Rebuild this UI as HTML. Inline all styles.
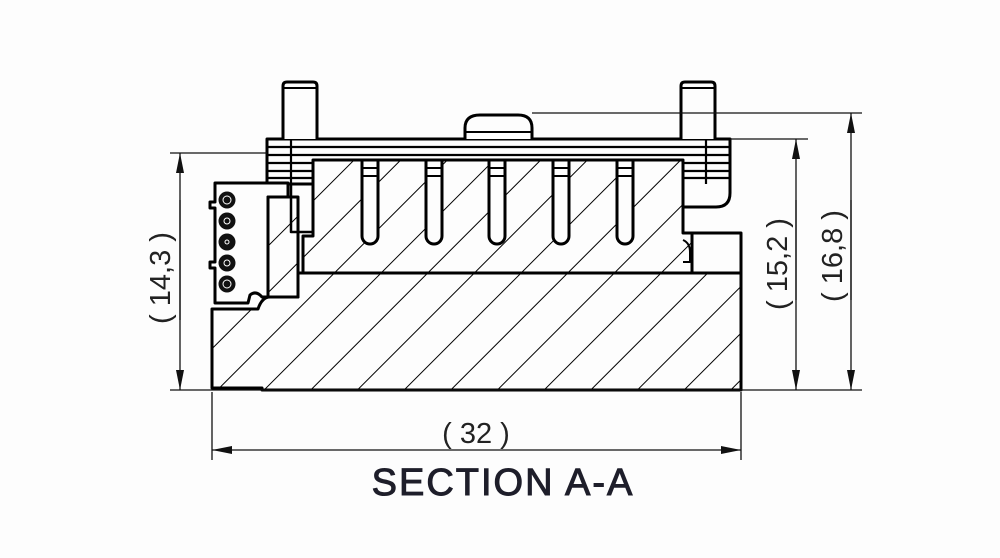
<!DOCTYPE html>
<html><head><meta charset="utf-8"><style>
html,body{margin:0;padding:0;background:#fdfdfd;}
svg{display:block;}
text{font-family:"Liberation Sans",sans-serif;}
</style></head><body>
<svg width="1000" height="558" viewBox="0 0 1000 558" xmlns="http://www.w3.org/2000/svg">
<defs>
<pattern id="h" patternUnits="userSpaceOnUse" width="33" height="33" patternTransform="rotate(45)">
<line x1="0" y1="0" x2="0" y2="33" stroke="#000" stroke-width="2"/>
</pattern>
<marker id="ar" viewBox="0 0 20 8" refX="20" refY="4" markerWidth="20" markerHeight="8" orient="auto" markerUnits="userSpaceOnUse"><path d="M0,0 L20,4 L0,8 Z" fill="#111"/></marker>
</defs>
<rect width="1000" height="558" fill="#fdfdfd"/>
<g stroke="#000" stroke-width="3" fill="none" stroke-linejoin="round">
<path d="M212,309 H258 Q262,297 270,297 H298 V273 H741 V390 H262 V388 H212 Z" fill="url(#h)"/>
<path d="M313,160 H683 V233 H692 V273 H303 V236 H313 Z" fill="url(#h)"/>
<rect x="692" y="233" width="49" height="40" fill="#fdfdfd"/>
<path d="M683,240 Q690,243 690,252 V262 H683" stroke-width="2"/>
<g fill="#fdfdfd">
<path d="M362,160 V236 A8,8 0 0 0 378,236 V160"/>
<path d="M426,160 V236 A8,8 0 0 0 442,236 V160"/>
<path d="M489,160 V236 A8,8 0 0 0 505,236 V160"/>
<path d="M553,160 V236 A8,8 0 0 0 569,236 V160"/>
<path d="M617,160 V236 A8,8 0 0 0 633,236 V160"/>
</g>
<g stroke-width="2">
<path d="M362,168 H378 M362,176 H378 M426,168 H442 M426,176 H442 M489,168 H505 M489,176 H505 M553,168 H569 M553,176 H569 M617,168 H633 M617,176 H633"/>
</g>
<g fill="#fdfdfd" stroke-width="2.5">
<path d="M338,160 V153 H346 V160"/><path d="M401,160 V153 H409 V160"/><path d="M464,160 V153 H472 V160"/>
<path d="M528,160 V153 H536 V160"/><path d="M591,160 V153 H599 V160"/><path d="M655,160 V153 H663 V160"/>
</g>
<path d="M267,139 H730 V193 Q730,207 716,207 H683 V160 H313 V184 H267 Z" fill="#fdfdfd"/>
<path d="M313,155 H683" stroke-width="2.2"/>
<path d="M313,160 H683" />
<g stroke-width="2.2">
<path d="M267,147 H730 M267,155 H313 M683,155 H730 M267,163 H313 M683,163 H730 M267,171 H313 M683,171 H730 M267,178 H313 M683,178 H730"/>
<path d="M291,139 V184 M706,139 V184"/>
</g>
<path d="M291,184 V232 H313 M303,236 V273" stroke-width="2.5"/>
<path d="M283,139 V86 Q283,82 287,82 H313 Q317,82 317,86 V139" fill="#fdfdfd"/>
<path d="M681,139 V86 Q681,82 685,82 H711 Q715,82 715,86 V139" fill="#fdfdfd"/>
<path d="M284,88 H316 M682,88 H714" stroke-width="2"/>
<path d="M465,139 V128 Q465,115 480,115 H518 Q532,115 532,128 V139" fill="#fdfdfd"/>
<path d="M466,132 H531" stroke-width="2"/>
<path d="M215,183 H288 V197 H268 V297 H262 Q256,290 250,295 L248,303 H215 V268 H210 V262 H215 V208 H210 V202 H215 Z" fill="#fdfdfd"/>
<rect x="268" y="197" width="30" height="100" fill="url(#h)"/>
</g>
<g fill="#111">
<circle cx="227" cy="200" r="8.5"/><circle cx="227" cy="221" r="8.5"/><circle cx="227" cy="242" r="8.5"/><circle cx="227" cy="263" r="8.5"/><circle cx="227" cy="284" r="8.5"/>
</g>
<g fill="none" stroke="#fff" stroke-width="1">
<circle cx="227" cy="200" r="4"/><circle cx="227" cy="221" r="3"/><circle cx="227" cy="242" r="2"/><circle cx="227" cy="263" r="3"/><circle cx="227" cy="284" r="4"/>
</g>
<g stroke="#111" stroke-width="1.3" fill="none">
<path d="M170,153 H267 M170,390 H862 M532,113 H862 M730,139 H808"/>
<path d="M212,392 V460 M741,392 V460"/>
<line x1="180" y1="320" x2="180" y2="153" marker-end="url(#ar)"/>
<line x1="180" y1="200" x2="180" y2="390" marker-end="url(#ar)"/>
<line x1="796" y1="300" x2="796" y2="139" marker-end="url(#ar)"/>
<line x1="796" y1="200" x2="796" y2="390" marker-end="url(#ar)"/>
<line x1="851" y1="300" x2="851" y2="113" marker-end="url(#ar)"/>
<line x1="851" y1="200" x2="851" y2="390" marker-end="url(#ar)"/>
<line x1="476" y1="450" x2="212" y2="450" marker-end="url(#ar)"/>
<line x1="476" y1="450" x2="741" y2="450" marker-end="url(#ar)"/>
</g>
<g fill="#222" font-size="29" text-anchor="middle">
<text x="476" y="443">( 32 )</text>
<text transform="translate(170,278) rotate(-90)">( 14,3 )</text>
<text transform="translate(787,264) rotate(-90)">( 15,2 )</text>
<text transform="translate(842,256) rotate(-90)">( 16,8 )</text>
</g>
<text x="503" y="495" text-anchor="middle" font-size="38" fill="#1e1e2a" stroke="#1e1e2a" stroke-width="1" letter-spacing="2">SECTION A-A</text>
</svg>
</body></html>
